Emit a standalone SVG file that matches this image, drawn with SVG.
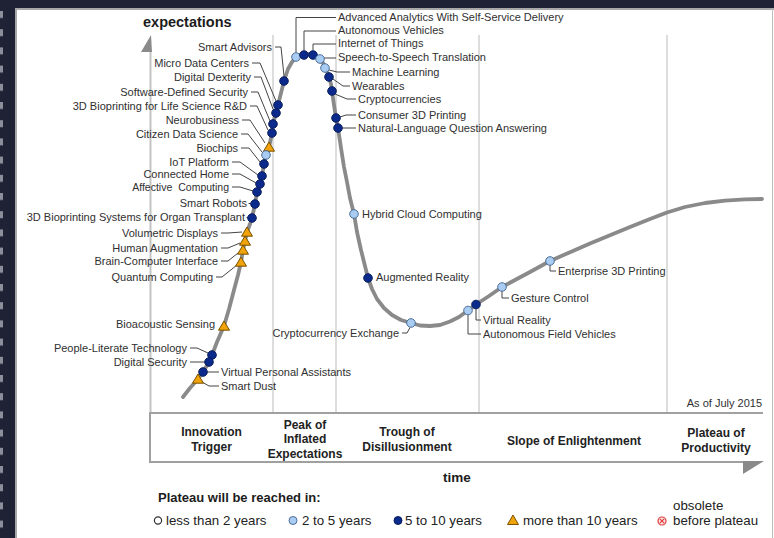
<svg xmlns="http://www.w3.org/2000/svg" xmlns:xlink="http://www.w3.org/1999/xlink" width="774" height="538" viewBox="0 0 774 538">
<style>
text{font-family:"Liberation Sans",Arial,sans-serif;fill:#303030;font-size:11px}
.e{text-anchor:end}
.b{font-weight:bold;fill:#1c1c1c}
.ph{font-weight:bold;font-size:12px;text-anchor:middle;fill:#222}
.lg{font-size:13.3px;fill:#222}
.ld{fill:none;stroke:#444;stroke-width:1}
.d{fill:#0b2a8c;stroke:#0a1f5c;stroke-width:1}
.l{fill:#a9cdf2;stroke:#4d6d99;stroke-width:1}
.t{fill:#f0a30a;stroke:#7a5200;stroke-width:1}
.sep{stroke:#d2d2d2;stroke-width:1.5}
.box{stroke:#a0a0a0;stroke-width:2;fill:none}
</style>
<defs>
<circle id="dk" cx="0" cy="0" r="4.3" class="d"/>
<circle id="lt" cx="0" cy="0" r="4.3" class="l"/>
<polygon id="tr" points="0,-5 5.5,4.2 -5.5,4.2" class="t"/>
<pattern id="holes" x="0" y="11" width="15" height="18.2" patternUnits="userSpaceOnUse">
<rect x="0" y="0" width="3" height="7" fill="#8b8e9b"/>
</pattern>
</defs>

<g id="frame">
<rect x="0" y="0" width="774" height="538" fill="#ffffff"/>
<rect x="0" y="0" width="774" height="8" fill="#1f2235"/>
<rect x="0" y="0" width="15" height="538" fill="#1f2235"/>
<rect x="0" y="10" width="15" height="528" fill="url(#holes)"/>
<line x1="15" y1="9" x2="774" y2="9" stroke="#a8a8a8" stroke-width="2"/>
<line x1="16" y1="9" x2="16" y2="538" stroke="#a8a8a8" stroke-width="2"/>
<line x1="772.5" y1="9" x2="772.5" y2="538" stroke="#b8c0b8" stroke-width="1"/>
</g>

<g id="axes">
<line class="sep" x1="273" y1="35" x2="273" y2="412"/>
<line class="sep" x1="336" y1="35" x2="336" y2="412"/>
<line class="sep" x1="479" y1="35" x2="479" y2="412"/>
<line class="sep" x1="667" y1="35" x2="667" y2="412"/>
<line x1="150.5" y1="50" x2="150.5" y2="413" stroke="#c4c4c4" stroke-width="2"/>
<polygon points="151,35 141,52 152,52" fill="#8a8a8a"/>
<path class="box" d="M150,413 H763 M150,412 V462 H745"/>
<polygon points="743,461 764,461 743,474" fill="#8a8a8a"/>
<text class="b" x="143" y="27" style="font-size:14.5px">expectations</text>
<text class="b" x="457" y="482" text-anchor="middle" style="font-size:13.5px">time</text>
<text x="762" y="407" class="e">As of July 2015</text>
<text class="ph" x="211.5" y="435.5">Innovation</text>
<text class="ph" x="211.5" y="450.5">Trigger</text>
<text class="ph" x="305" y="428.5">Peak of</text>
<text class="ph" x="305" y="443">Inflated</text>
<text class="ph" x="305" y="457.5">Expectations</text>
<text class="ph" x="407" y="435.5">Trough of</text>
<text class="ph" x="407" y="450.5">Disillusionment</text>
<text class="ph" x="574" y="444.5">Slope of Enlightenment</text>
<text class="ph" x="716" y="436.5">Plateau of</text>
<text class="ph" x="716" y="451.5">Productivity</text>
</g>

<g id="curve">
<polyline fill="none" stroke="#8a8a8a" stroke-width="3.8" stroke-linejoin="round" stroke-linecap="round" points="183,397 190,388 198,379 203,372 209,362 212,355 217,342 224,326 229,309 234,290 238,275 241,262 243,250 245,241 247,232 250,224 252,218 255,204 257,192 260,184 262,176 264,164 266,155 269,147 271,138 272,133 273,124 276,113 278,105 281,93 284,81 288,69 292,62 296,57 300,55 304,54.5 309,54 313,54.5 317,56.5 320,59 323,63 325,68 327,72 329,77 331,84 332,91 334,105 336,118 338,128 341,148 344,167 347,182 350,198 354,214 357,232 361,250 365,266 368,278 372,289 377,299 384,308 392,315 401,320 411,323 420,325.5 430,326 440,325 450,321.5 459,317 468,310.5 476,304.5 489,296 502,287 515,280 530,272 550,261 570,252.2 590,243.6 610,235.2 630,227 650,219 667,212.5 685,207 705,203 725,200.6 745,199.4 762,199"/>
</g>

<g id="connectors">
<path class="ld" d="M275,47 H281 L284,76"/>
<path class="ld" d="M252,63 H260 L276,101"/>
<path class="ld" d="M254,77 H261 L273,109"/>
<path class="ld" d="M251,92 H258 L270,121"/>
<path class="ld" d="M250,106 H257 L268,130"/>
<path class="ld" d="M242,120 H250 L265,143"/>
<path class="ld" d="M241,134 H248 L262,152"/>
<path class="ld" d="M241,148 H249 L260,162"/>
<path class="ld" d="M232,162 H240 L258,175"/>
<path class="ld" d="M232,174 H240 L256,183"/>
<path class="ld" d="M232,187 H240 L253,191"/>
<path class="ld" d="M248.5,203.5 H251"/>
<path class="ld" d="M246.5,217.5 H248"/>
<path class="ld" d="M221,233 H228 L242,232"/>
<path class="ld" d="M221,248 H228 L240,243"/>
<path class="ld" d="M221,261 H228 L238,253"/>
<path class="ld" d="M216,277 H222 L237,265"/>
<path class="ld" d="M190,348 H197 L208,353"/>
<path class="ld" d="M190,362 H205"/>
<path class="ld" d="M207,372 H219"/>
<path class="ld" d="M202,382 L209,386 H219"/>
<path class="ld" d="M296,52.5 V17.5 H336"/>
<path class="ld" d="M304,50 V31 H336"/>
<path class="ld" d="M313,50 V44 H336"/>
<path class="ld" d="M324,58 H336"/>
<path class="ld" d="M329,70 L337,72 H350"/>
<path class="ld" d="M333,79 L343,86 H350"/>
<path class="ld" d="M335,94 L347,99 H356"/>
<path class="ld" d="M340,117 L346,115 H356"/>
<path class="ld" d="M342,128 H356"/>
<path class="ld" d="M402,333 H407 L410,327.5"/>
<path class="ld" d="M476,308.5 V320 H481"/>
<path class="ld" d="M468,314.5 V334 H481"/>
<path class="ld" d="M502,291 V298 H509"/>
<path class="ld" d="M550,265 V271 H556"/>
</g>

<g id="n-smart-advisors"><use xlink:href="#dk" x="284" y="81"/><text class="e" x="272" y="51">Smart Advisors</text></g>
<g id="n-micro-data-centers"><use xlink:href="#dk" x="278" y="105"/><text class="e" x="249" y="67">Micro Data Centers</text></g>
<g id="n-digital-dexterity"><use xlink:href="#dk" x="276" y="113"/><text class="e" x="251" y="81">Digital Dexterity</text></g>
<g id="n-software-defined-security"><use xlink:href="#dk" x="273" y="124"/><text class="e" x="248" y="96">Software-Defined Security</text></g>
<g id="n-3d-bioprinting-rd"><use xlink:href="#dk" x="272" y="133"/><text class="e" x="247" y="110">3D Bioprinting for Life Science R&amp;D</text></g>
<g id="n-neurobusiness"><use xlink:href="#tr" x="269" y="147"/><text class="e" x="239" y="124">Neurobusiness</text></g>
<g id="n-citizen-data-science"><use xlink:href="#lt" x="266" y="155"/><text class="e" x="238" y="138">Citizen Data Science</text></g>
<g id="n-biochips"><use xlink:href="#dk" x="264" y="164"/><text class="e" x="238" y="152">Biochips</text></g>
<g id="n-iot-platform"><use xlink:href="#dk" x="262" y="176"/><text class="e" x="229" y="166">IoT Platform</text></g>
<g id="n-connected-home"><use xlink:href="#dk" x="260" y="184"/><text class="e" x="229" y="178">Connected Home</text></g>
<g id="n-affective-computing"><use xlink:href="#dk" x="257" y="192"/><text class="e" x="229" y="191" style="font-size:10.5px;word-spacing:3px">Affective Computing</text></g>
<g id="n-smart-robots"><use xlink:href="#dk" x="255" y="204"/><text class="e" x="247" y="207">Smart Robots</text></g>
<g id="n-3d-bioprinting-organ"><use xlink:href="#dk" x="252" y="218"/><text class="e" x="245" y="221">3D Bioprinting Systems for Organ Transplant</text></g>
<g id="n-volumetric-displays"><use xlink:href="#tr" x="247" y="232"/><text class="e" x="218" y="237">Volumetric Displays</text></g>
<g id="n-human-augmentation"><use xlink:href="#tr" x="245" y="241"/><text class="e" x="218" y="252">Human Augmentation</text></g>
<g id="n-brain-computer-interface"><use xlink:href="#tr" x="243" y="250"/><text class="e" x="218" y="265">Brain-Computer Interface</text></g>
<g id="n-quantum-computing"><use xlink:href="#tr" x="241" y="262"/><text class="e" x="213" y="281">Quantum Computing</text></g>
<g id="n-bioacoustic-sensing"><use xlink:href="#tr" x="224" y="326"/><text class="e" x="215" y="328">Bioacoustic Sensing</text></g>
<g id="n-people-literate"><use xlink:href="#dk" x="212" y="355"/><text class="e" x="187" y="352">People-Literate Technology</text></g>
<g id="n-digital-security"><use xlink:href="#dk" x="209" y="362"/><text class="e" x="187" y="366">Digital Security</text></g>
<g id="n-virtual-personal-assistants"><use xlink:href="#dk" x="203" y="372"/><text x="221" y="376">Virtual Personal Assistants</text></g>
<g id="n-smart-dust"><use xlink:href="#tr" x="198" y="379"/><text x="221" y="390">Smart Dust</text></g>

<g id="n-advanced-analytics"><use xlink:href="#lt" x="296" y="57"/><text x="338" y="21">Advanced Analytics With Self-Service Delivery</text></g>
<g id="n-autonomous-vehicles"><use xlink:href="#dk" x="304" y="55"/><text x="338" y="34">Autonomous Vehicles</text></g>
<g id="n-internet-of-things"><use xlink:href="#dk" x="313" y="55"/><text x="338" y="47">Internet of Things</text></g>
<g id="n-speech-translation"><use xlink:href="#lt" x="320" y="59"/><text x="338" y="61">Speech-to-Speech Translation</text></g>
<g id="n-machine-learning"><use xlink:href="#lt" x="325" y="68"/><text x="352" y="76">Machine Learning</text></g>
<g id="n-wearables"><use xlink:href="#dk" x="329" y="77"/><text x="352" y="90">Wearables</text></g>
<g id="n-cryptocurrencies"><use xlink:href="#dk" x="332" y="91"/><text x="358" y="103">Cryptocurrencies</text></g>
<g id="n-consumer-3d-printing"><use xlink:href="#dk" x="336" y="118"/><text x="358" y="119">Consumer 3D Printing</text></g>
<g id="n-nlqa"><use xlink:href="#dk" x="338" y="128"/><text x="358" y="132">Natural-Language Question Answering</text></g>

<g id="n-hybrid-cloud"><use xlink:href="#lt" x="354" y="214"/><text x="362" y="218">Hybrid Cloud Computing</text></g>
<g id="n-augmented-reality"><use xlink:href="#dk" x="368" y="278"/><text x="376" y="281">Augmented Reality</text></g>
<g id="n-cryptocurrency-exchange"><use xlink:href="#lt" x="411" y="323"/><text class="e" x="399" y="337">Cryptocurrency Exchange</text></g>
<g id="n-autonomous-field-vehicles"><use xlink:href="#lt" x="468" y="310.5"/><text x="483" y="338">Autonomous Field Vehicles</text></g>
<g id="n-virtual-reality"><use xlink:href="#dk" x="476" y="304.5"/><text x="483" y="324">Virtual Reality</text></g>
<g id="n-gesture-control"><use xlink:href="#lt" x="502" y="287"/><text x="511" y="302">Gesture Control</text></g>
<g id="n-enterprise-3d-printing"><use xlink:href="#lt" x="550" y="261"/><text x="558" y="275">Enterprise 3D Printing</text></g>

<g id="legend">
<text class="b" x="158" y="502" style="font-size:13px">Plateau will be reached in:</text>
<circle cx="158" cy="520.5" r="3.6" fill="#fff" stroke="#333" stroke-width="1.2"/>
<text class="lg" x="166" y="525">less than 2 years</text>
<circle cx="293" cy="520.5" r="4" class="l"/>
<text class="lg" x="302" y="525">2 to 5 years</text>
<circle cx="398" cy="520.5" r="4" class="d"/>
<text class="lg" x="405" y="525">5 to 10 years</text>
<polygon points="513,515 518.5,524.5 507.5,524.5" class="t"/>
<text class="lg" x="523" y="525">more than 10 years</text>
<circle cx="662" cy="521" r="4" fill="#fde4e4" stroke="#e03a3a" stroke-width="1.2"/>
<path d="M659.8,518.8 L664.2,523.2 M664.2,518.8 L659.8,523.2" stroke="#e03a3a" stroke-width="1.1"/>
<text class="lg" x="673" y="510">obsolete</text>
<text class="lg" x="673" y="525">before plateau</text>
</g>
</svg>
